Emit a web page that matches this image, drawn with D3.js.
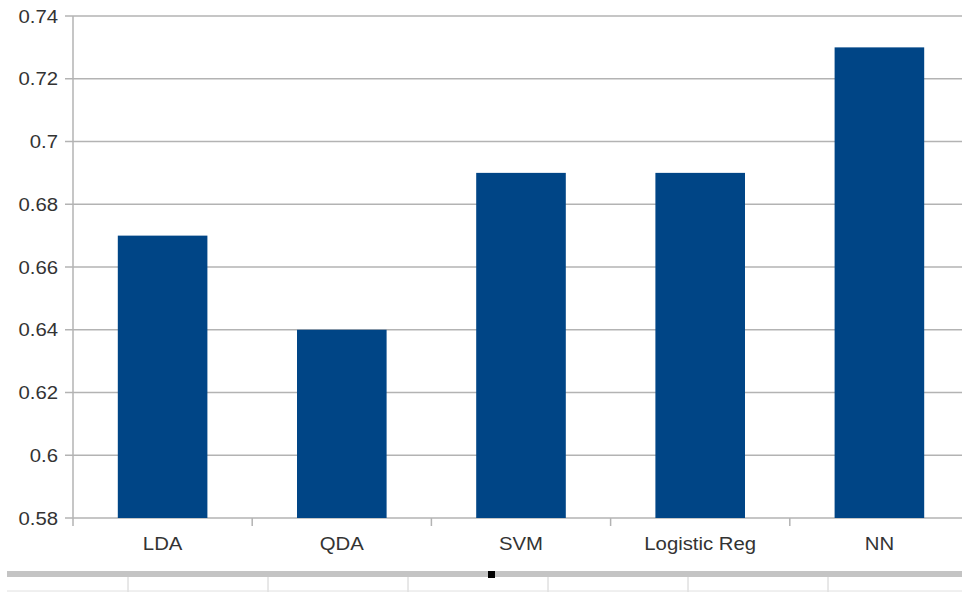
<!DOCTYPE html>
<html>
<head>
<meta charset="utf-8">
<script src="https://cdn.jsdelivr.net/npm/d3@7"></script>
<style>
  html, body { margin: 0; padding: 0; background: #fff; }
  svg { display: block; }
  text { font-family: "Liberation Sans", Arial, sans-serif; fill: #333; }
</style>
</head>
<body>
<svg id="chart" width="962" height="592"></svg>
<script>
// Classifier accuracy
const categories = ["LDA", "QDA", "SVM", "Logistic Reg", "NN"];
const accuracy = [0.67, 0.64, 0.69, 0.69, 0.73];
const yTicks = [0.58, 0.6, 0.62, 0.64, 0.66, 0.68, 0.7, 0.72, 0.74];

const svg = d3.select("#chart");
const plotLeft = 73, plotRight = 969, plotTop = 16, plotBottom = 518;

const x = d3.scaleBand().domain(categories).range([plotLeft, plotRight]).padding(0);
const y = d3.scaleLinear().domain([0.58, 0.74]).range([plotBottom, plotTop]);

const gridColor = "#b3b3b3";

// horizontal gridlines
svg.append("g").selectAll("line").data(yTicks).join("line")
  .attr("x1", plotLeft - 8).attr("x2", 962)
  .attr("y1", d => y(d)).attr("y2", d => y(d))
  .attr("stroke", gridColor).attr("stroke-width", 1.5);

// y axis line
svg.append("line")
  .attr("x1", plotLeft).attr("x2", plotLeft)
  .attr("y1", plotTop).attr("y2", plotBottom + 8)
  .attr("stroke", gridColor).attr("stroke-width", 1.5);

// y tick labels
svg.append("g").selectAll("text").data(yTicks).join("text")
  .attr("transform", d => `translate(58,${y(d) + 6.5}) scale(1.13,1)`)
  .attr("text-anchor", "end")
  .style("font-size", "18px")
  .text(d => String(+d.toFixed(2)));

// category tick marks between bands
const bounds = categories.slice(1).map(c => x(c));
svg.append("g").selectAll("line").data(bounds).join("line")
  .attr("x1", d => d).attr("x2", d => d)
  .attr("y1", plotBottom).attr("y2", plotBottom + 8)
  .attr("stroke", gridColor).attr("stroke-width", 1.5);

// bars
const bw = x.bandwidth() * 0.5;
svg.append("g").selectAll("rect").data(categories).join("rect")
  .attr("x", d => x(d) + (x.bandwidth() - bw) / 2)
  .attr("width", bw)
  .attr("y", (d, i) => y(accuracy[i]))
  .attr("height", (d, i) => y(0.58) - y(accuracy[i]))
  .attr("fill", "#004586");

// category labels
svg.append("g").selectAll("text").data(categories).join("text")
  .attr("transform", d => `translate(${x(d) + x.bandwidth() / 2},550) scale(1.13,1)`)
  .attr("text-anchor", "middle")
  .style("font-size", "18px")
  .text(d => d);

// spreadsheet strip below the chart
svg.append("rect").attr("x", 7).attr("y", 571).attr("width", 955).attr("height", 6).attr("fill", "#c4c4c4");
svg.append("rect").attr("x", 488).attr("y", 571).attr("width", 7).attr("height", 7).attr("fill", "#000");
const cols = [128, 268, 408, 548, 688, 828];
svg.append("g").selectAll("line").data(cols).join("line")
  .attr("x1", d => d).attr("x2", d => d)
  .attr("y1", 577).attr("y2", 592)
  .attr("stroke", "#d0d0d0").attr("stroke-width", 1);
svg.append("line").attr("x1", 7).attr("x2", 962).attr("y1", 591).attr("y2", 591)
  .attr("stroke", "#e0e0e0").attr("stroke-width", 1);
</script>
</body>
</html>
